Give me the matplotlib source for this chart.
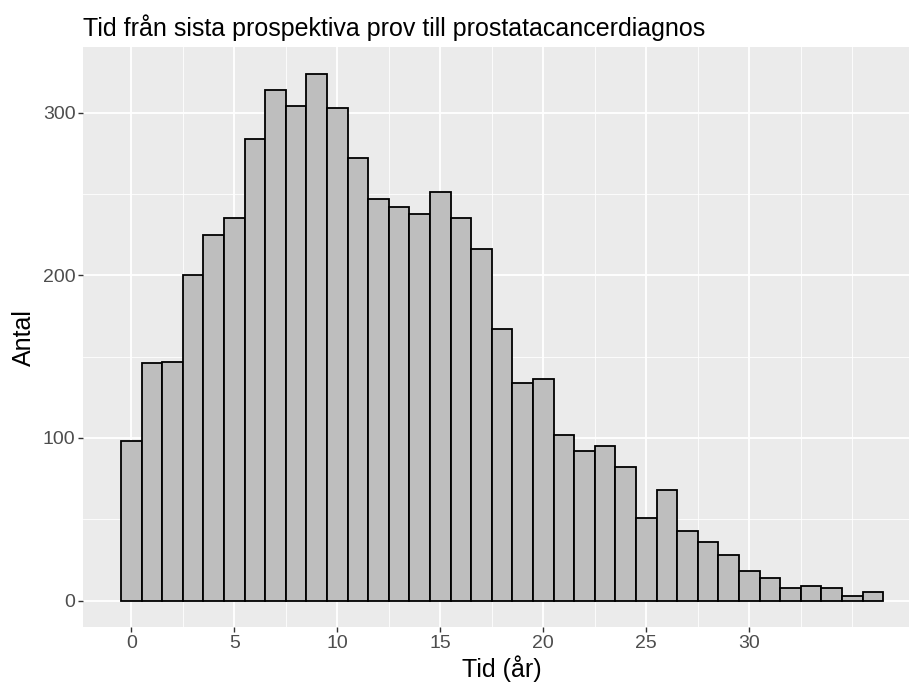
import matplotlib.pyplot as plt
from matplotlib.ticker import FixedLocator

# years from last sample to diagnosis (bin centres) and counts
years = list(range(37))
counts = [98, 146, 147, 200, 225, 235, 284, 314, 304, 324,
          303, 272, 247, 242, 238, 251, 235, 216, 167, 134,
          136, 102, 92, 95, 82, 51, 68, 43, 36, 28,
          18, 14, 8, 9, 8, 3, 5]
x_breaks = [0, 5, 10, 15, 20, 25, 30]
y_breaks = [0, 100, 200, 300]

plt.rcParams['font.family'] = ['Liberation Sans', 'DejaVu Sans']

fig = plt.figure(figsize=(9.09, 6.85), dpi=100)
ax = fig.add_axes([0.0913, 0.0847, 0.9223, 0.8463])
ax.set_facecolor('#EBEBEB')

ax.bar(years, counts, width=1, color='#BEBEBE', edgecolor='black',
       linewidth=1.3, zorder=3)

ax.set_xlim(-2.35, 38.35)
ax.set_ylim(-16.2, 340.2)

ax.xaxis.set_major_locator(FixedLocator(x_breaks))
ax.yaxis.set_major_locator(FixedLocator(y_breaks))
ax.xaxis.set_minor_locator(FixedLocator([2.5 + 5 * i for i in range(7)] + [35]))
ax.yaxis.set_minor_locator(FixedLocator([50, 150, 250]))

ax.grid(which='major', color='white', linewidth=1.3)
ax.grid(which='minor', color='white', linewidth=0.6)
ax.set_axisbelow(True)

for s in ax.spines.values():
    s.set_visible(False)

ax.tick_params(which='major', length=3.5, width=1, color='#333333',
               labelcolor='#4D4D4D', labelsize=14, pad=2)
ax.tick_params(which='minor', length=0)

ax.set_xlabel('Tid (år)', fontsize=18, color='black', labelpad=3)
ax.set_ylabel('Antal', fontsize=18, color='black', labelpad=5)
ax.set_title('Tid från sista prospektiva prov till prostatacancerdiagnos',
             fontsize=18, loc='left', color='black', pad=8)

fig.savefig('out.png', dpi=100)
